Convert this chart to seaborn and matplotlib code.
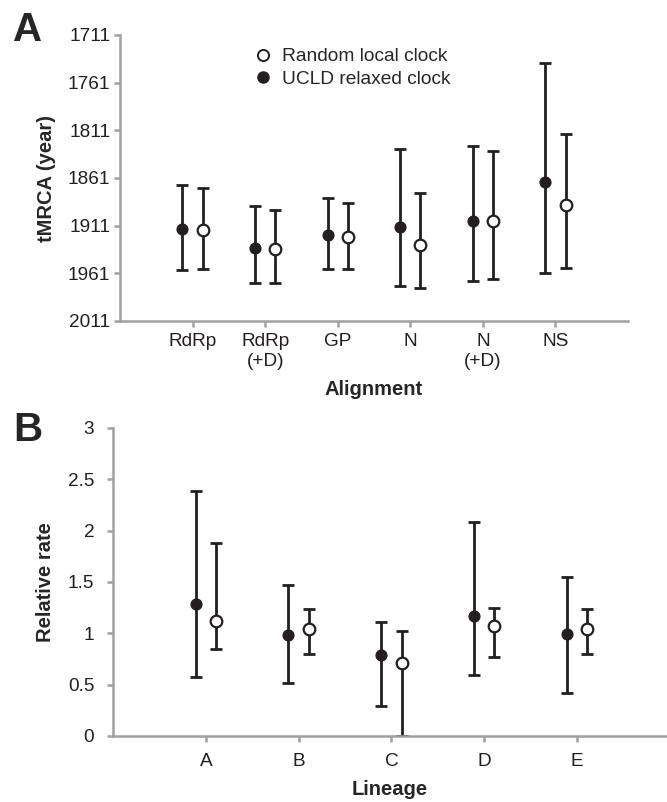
import matplotlib
matplotlib.use("Agg")
import matplotlib.pyplot as plt
from matplotlib import font_manager
from matplotlib.lines import Line2D
import seaborn as sns
import pandas as pd
import numpy as np

# panel A: tMRCA per alignment
alignments = ["RdRp", "RdRp\n(+D)", "GP", "N", "N\n(+D)", "NS"]
ucld_tmrca = [1915, 1934, 1921, 1912, 1906, 1865]
ucld_tmrca_lo = [1868, 1890, 1882, 1831, 1827, 1740]
ucld_tmrca_hi = [1957, 1971, 1956, 1974, 1969, 1961]
rlc_tmrca = [1916, 1935, 1923, 1931, 1906, 1889]
rlc_tmrca_lo = [1871, 1895, 1887, 1877, 1833, 1815]
rlc_tmrca_hi = [1956, 1971, 1956, 1976, 1967, 1955]

# panel B: relative rate per lineage
lineages = ["A", "B", "C", "D", "E"]
ucld_rate = [1.29, 0.98, 0.785, 1.17, 0.99]
ucld_rate_lo = [0.57, 0.52, 0.29, 0.595, 0.415]
ucld_rate_hi = [2.385, 1.47, 1.11, 2.08, 1.55]
rlc_rate = [1.125, 1.045, 0.71, 1.07, 1.045]
rlc_rate_lo = [0.85, 0.80, 0.0, 0.77, 0.80]
rlc_rate_hi = [1.88, 1.24, 1.02, 1.25, 1.24]

ink = "#231f20"
grey = "#a0a0a0"


def font_file(keys, fallback, size):
    # pick a font by file name so regular and bold do not get mixed up
    files = [f.fname for f in font_manager.fontManager.ttflist]
    for k in keys:
        for fn in files:
            if fn.split("/")[-1].lower().startswith(k.lower()):
                return font_manager.FontProperties(fname=fn, size=size)
    return font_manager.FontProperties(family=fallback, size=size)


tick_fp = font_file(["LiberationSans-Regular.", "Arial."], "DejaVu Sans", 13.7)
leg_fp = font_file(["LiberationSans-Regular.", "Arial."], "DejaVu Sans", 13.8)
lab_fp = font_file(["LiberationSans-Bold.", "Arial-Bold", "DejaVuSans-Bold."], "DejaVu Sans", 14.5)
big_fp = font_file(["LiberationSans-Bold.", "Arial-Bold", "DejaVuSans-Bold."], "DejaVu Sans", 29)

sns.set_style("white")
plt.rcParams["font.family"] = ["Liberation Sans", "DejaVu Sans"]

fig = plt.figure(figsize=(6.67, 8.02), dpi=100)
axA = fig.add_axes([120 / 667, 1 - 321 / 802, 508 / 667, 286 / 802])
axB = fig.add_axes([113 / 667, 1 - 736 / 802, 554 / 667, 308 / 802])


def draw(ax, cats, m1, lo1, hi1, m2, lo2, hi2, off):
    x = np.arange(1, len(cats) + 1)
    df = pd.DataFrame({
        "x": np.concatenate([x - off, x + off]),
        "y": m1 + m2,
        "lo": lo1 + lo2,
        "hi": hi1 + hi2,
        "model": ["UCLD relaxed clock"] * len(cats) + ["Random local clock"] * len(cats),
    })
    for _, r in df.iterrows():
        ax.errorbar(r["x"], r["y"], yerr=[[abs(r["y"] - r["lo"])], [abs(r["hi"] - r["y"])]],
                    fmt="none", ecolor=ink, elinewidth=2, capsize=4, capthick=2, zorder=2)
    sub = df[df["model"] == "UCLD relaxed clock"]
    sns.scatterplot(data=sub, x="x", y="y", ax=ax, color=ink, edgecolor=ink,
                    s=60, linewidth=1, zorder=3, legend=False)
    sub = df[df["model"] == "Random local clock"]
    sns.scatterplot(data=sub, x="x", y="y", ax=ax, color="white", edgecolor=ink,
                    s=70, linewidth=1.6, zorder=3, legend=False)
    ax.set_xticks(x)
    ax.set_xticklabels(cats, fontproperties=tick_fp, linespacing=1.2)
    for s in ["top", "right"]:
        ax.spines[s].set_visible(False)
    for s in ["left", "bottom"]:
        ax.spines[s].set_color(grey)
        ax.spines[s].set_linewidth(1.8)
    ax.tick_params(axis="both", colors=grey, labelcolor=ink,
                   length=4, width=1.8, direction="out", left=True, bottom=True)


draw(axA, alignments, ucld_tmrca, ucld_tmrca_lo, ucld_tmrca_hi,
     rlc_tmrca, rlc_tmrca_lo, rlc_tmrca_hi, 0.14)
axA.set_xlim(0, 7)
axA.set_ylim(2011, 1711)
yt = np.arange(1711, 2012, 50)
axA.set_yticks(yt)
axA.set_yticklabels([str(v) for v in yt], fontproperties=tick_fp)
axA.tick_params(axis="x", pad=5)
axA.tick_params(axis="y", pad=3)
axA.set_xlabel("Alignment", fontproperties=lab_fp, labelpad=7)
axA.set_ylabel("tMRCA (year)", fontproperties=lab_fp, labelpad=8.5)

draw(axB, lineages, ucld_rate, ucld_rate_lo, ucld_rate_hi,
     rlc_rate, rlc_rate_lo, rlc_rate_hi, 0.11)
axB.set_xlim(0, 5.97)
axB.set_ylim(0, 3)
axB.set_yticks([0, 0.5, 1, 1.5, 2, 2.5, 3])
axB.set_yticklabels(["0", "0.5", "1", "1.5", "2", "2.5", "3"], fontproperties=tick_fp)
axB.tick_params(axis="x", pad=8.5)
axB.tick_params(axis="y", pad=9.5)
axB.set_xlabel("Lineage", fontproperties=lab_fp, labelpad=7)
axB.set_ylabel("Relative rate", fontproperties=lab_fp, labelpad=9)

handles = [
    Line2D([], [], marker="o", ls="none", mfc="white", mec=ink, mew=1.4, ms=8),
    Line2D([], [], marker="o", ls="none", mfc=ink, mec=ink, ms=8),
]
axA.legend(handles, ["Random local clock", "UCLD relaxed clock"], frameon=False,
           loc="upper left", bbox_to_anchor=(0.263, 0.955), prop=leg_fp,
           handlelength=1.0, handletextpad=0.5, labelspacing=0.26,
           borderpad=0, borderaxespad=0)

fig.text(13 / 667, 1 - 41 / 802, "A", fontproperties=big_fp)
fig.text(13 / 667, 1 - 441 / 802, "B", fontproperties=big_fp)

fig.savefig("out.png", dpi=100)
